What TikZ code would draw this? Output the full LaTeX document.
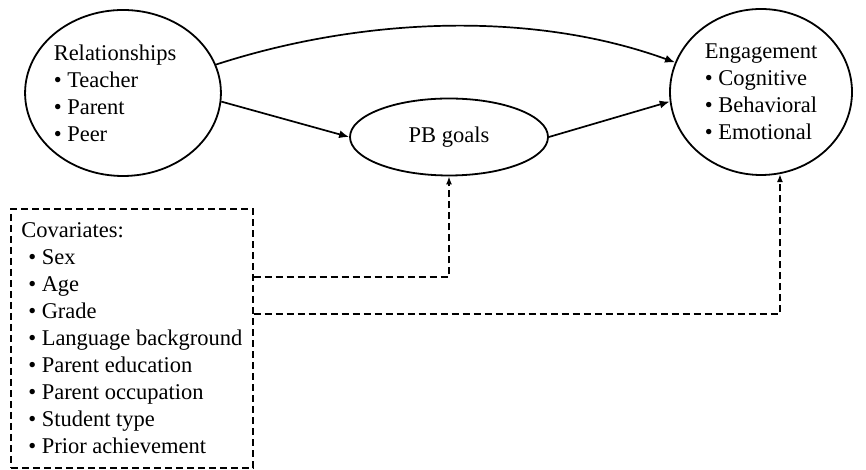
\documentclass[tikz,border=0pt]{standalone}
\usepackage{fontspec}
\setmainfont{Liberation Serif}
\usetikzlibrary{arrows.meta, positioning, shapes.geometric, calc}

\begin{document}
\begin{tikzpicture}[
    x=1pt, y=1pt,
    font=\fontsize{22.5}{27}\selectfont,
    construct/.style={ellipse, draw=black, line width=1.8pt, inner sep=0pt, align=left},
    arr/.style={-{Latex[length=10pt, width=8pt]}, line width=1.7pt},
    dasharr/.style={-{Latex[length=8pt, width=6pt]}, line width=1.6pt, dash pattern=on 7pt off 4pt},
    covbox/.style={rectangle, draw=black, line width=1.6pt, dash pattern=on 7pt off 4pt, align=left, minimum width=242pt, minimum height=259pt, inner sep=0pt}
]
    \useasboundingbox (0,0) rectangle (866,470);

    \node[construct, minimum width=194pt, minimum height=166pt] (rel) at (123,377)
        {Relationships\hspace*{16pt}\\\textbullet\ Teacher\\\textbullet\ Parent\\\textbullet\ Peer};
    \node[construct, minimum width=182pt, minimum height=166pt] (eng) at (761,378)
        {Engagement\\\textbullet\ Cognitive\\\textbullet\ Behavioral\\\textbullet\ Emotional};
    \node[construct, minimum width=198pt, minimum height=77pt] (pb) at (449,333) {PB goals};

    \node[covbox, anchor=north west] (cov) at (10,262)
        {Covariates:\hspace*{6pt}\\
         \hspace*{7pt}\textbullet\ Sex\\
         \hspace*{7pt}\textbullet\ Age\\
         \hspace*{7pt}\textbullet\ Grade\\
         \hspace*{7pt}\textbullet\ Language background\hspace*{6pt}\\
         \hspace*{7pt}\textbullet\ Parent education\\
         \hspace*{7pt}\textbullet\ Parent occupation\\
         \hspace*{7pt}\textbullet\ Student type\\
         \hspace*{7pt}\textbullet\ Prior achievement};

    % Paths
    \draw[arr] (rel.17) to[out=18, in=160, looseness=0.85] (eng.161);
    \draw[arr] (rel.-5) -- (pb.west);
    \draw[arr] (pb.east) -- (eng.186);

    % Covariates
    \draw[dasharr] (cov.east |- 0,193) -| (pb.south);
    \draw[dasharr] (cov.east |- 0,156) -| (eng.-77);
\end{tikzpicture}
\end{document}
